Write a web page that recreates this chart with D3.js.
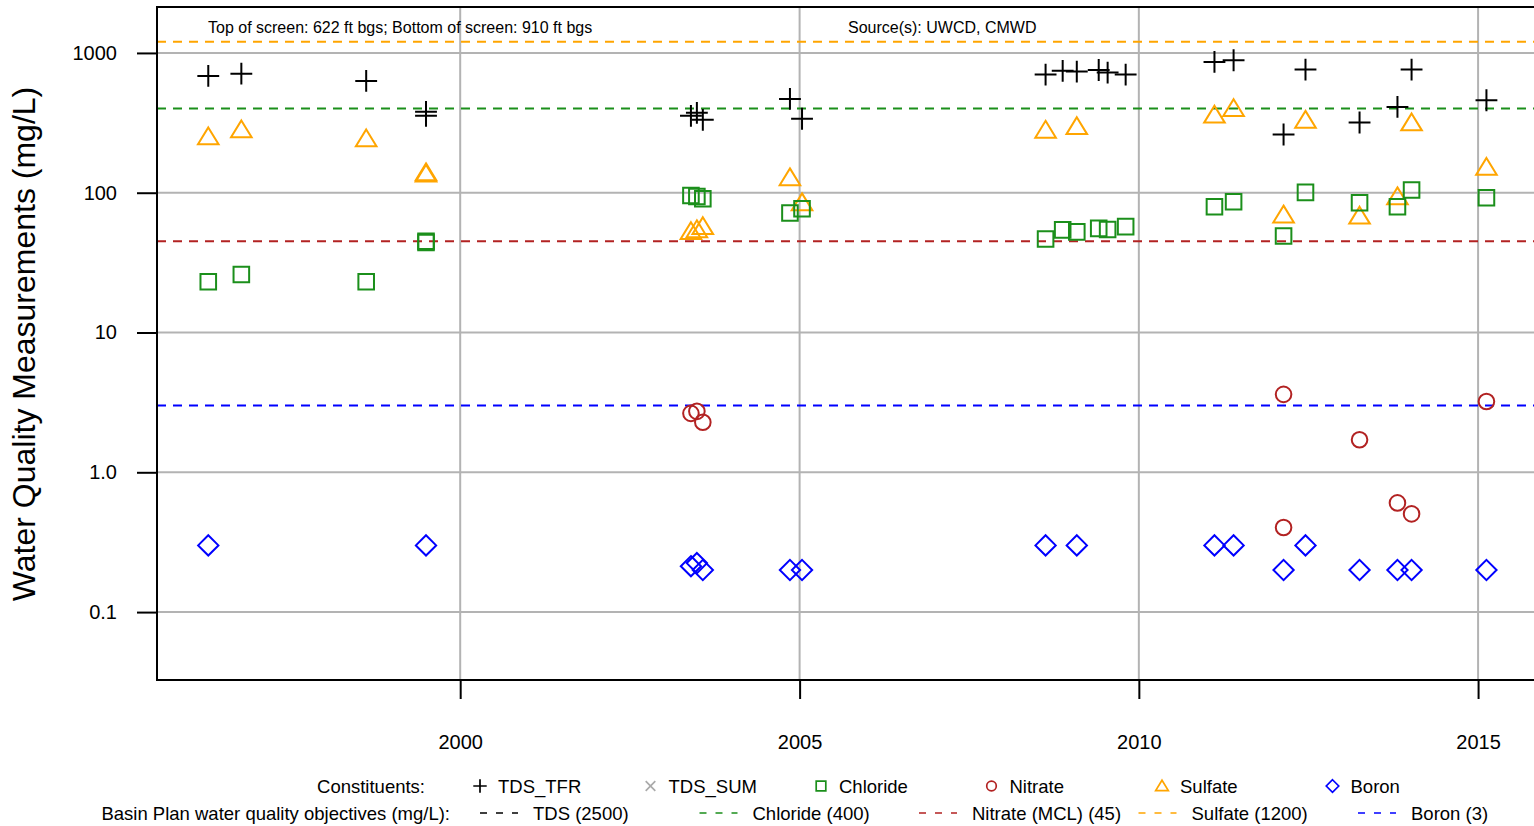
<!DOCTYPE html>
<html>
<head>
<meta charset="utf-8">
<script src="https://cdn.jsdelivr.net/npm/d3@7"></script>
<style>
  body { margin: 0; background: #fff; }
  text { font-family: "Liberation Sans", Arial, sans-serif; fill: #000; }
</style>
</head>
<body>
<div id="chart"></div>
<script>
(function() {
  // sample data (mg/L)
  const tdsDates = ["1996-04-15", "1996-10-10", "1998-08-13", "1999-07-01", "1999-07-01",
    "2003-05-27", "2003-06-28", "2003-07-30", "2004-11-10", "2005-01-14",
    "2008-08-17", "2008-11-17", "2009-02-01", "2009-05-30", "2009-07-17", "2009-10-22",
    "2011-02-12", "2011-05-26", "2012-02-19", "2012-06-16", "2013-04-03", "2013-10-24",
    "2014-01-08", "2015-02-15"];
  const tdsValues = [685, 711, 631, 379, 355, 355, 373, 332, 469, 338,
    700, 745, 735, 755, 723, 700, 863, 887, 261, 760, 318, 411, 760, 459];

  const chlorideDates = tdsDates;
  const chlorideValues = [23.1, 26, 23.1, 45, 44, 95.5, 94, 90.6, 71.6, 76.8,
    46.7, 54.2, 52.5, 55.6, 54.6, 57.2, 79.4, 86.2, 49, 100.5, 84.8, 79.4, 104.6, 92.1];

  const sulfateDates = ["1996-04-15", "1996-10-10", "1998-08-13", "1999-07-01", "1999-07-01",
    "2003-05-27", "2003-06-28", "2003-07-30", "2004-11-10", "2005-01-14",
    "2008-08-17", "2009-02-01", "2011-02-12", "2011-05-26", "2012-02-19", "2012-06-16",
    "2013-04-03", "2013-10-24", "2014-01-08", "2015-02-15"];
  const sulfateValues = [251, 282, 243, 139, 136, 52.7, 54.4, 57.2, 128, 84.8,
    280, 297, 359, 400, 69.3, 330, 68, 93.6, 316, 152];

  const nitrateDates = ["2003-05-27", "2003-06-28", "2003-07-30", "2012-02-19", "2012-02-19",
    "2013-04-03", "2013-10-24", "2014-01-08", "2015-02-15"];
  const nitrateValues = [2.64, 2.73, 2.28, 3.61, 0.403, 1.71, 0.604, 0.504, 3.21];

  const boronDates = ["1996-04-15", "1999-07-01", "2003-05-27", "2003-06-28", "2003-07-30",
    "2004-11-10", "2005-01-14", "2008-08-17", "2009-02-01", "2011-02-12", "2011-05-26",
    "2012-02-19", "2012-06-16", "2013-04-03", "2013-10-24", "2014-01-08", "2015-02-15"];
  const boronValues = [0.3, 0.3, 0.213, 0.224, 0.2, 0.2, 0.2, 0.3, 0.3, 0.3, 0.3,
    0.2, 0.3, 0.2, 0.2, 0.2, 0.2];

  const constituentNames = ["TDS_TFR", "TDS_SUM", "Chloride", "Nitrate", "Sulfate", "Boron"];
  const objectiveNames = ["TDS (2500)", "Chloride (400)", "Nitrate (MCL) (45)", "Sulfate (1200)", "Boron (3)"];
  const objectiveValues = [2500, 400, 45, 1200, 3];

  const yTicks = [0.1, 1, 10, 100, 1000];
  const yTickLabels = ["0.1", "1.0", "10", "100", "1000"];
  const xTickYears = [2000, 2005, 2010, 2015];

  const colors = {
    TDS_TFR: "#000000", TDS_SUM: "#aaaaaa", Chloride: "#1b8f1b",
    Nitrate: "#b22222", Sulfate: "#ffa500", Boron: "#0000ff"
  };
  const objectiveColors = ["#000000", "#1b8f1b", "#b22222", "#ffa500", "#0000ff"];

  const width = 1534, height = 826;
  const plot = { left: 157, top: 7, bottom: 680, right: 1545 };
  const parse = d3.timeParse("%Y-%m-%d");

  const x = d3.scaleTime()
    .domain([parse("1995-07-14"), parse("2015-10-29")])
    .range([plot.left, 1534]);
  const y = d3.scaleLog()
    .domain([0.03267, 2131])
    .range([plot.bottom, plot.top]);

  const svg = d3.select("#chart").append("svg")
    .attr("width", width)
    .attr("height", height);

  svg.append("defs").append("clipPath").attr("id", "clip")
    .append("rect")
    .attr("x", plot.left).attr("y", plot.top)
    .attr("width", plot.right - plot.left).attr("height", plot.bottom - plot.top);

  // grid
  const grid = svg.append("g").attr("clip-path", "url(#clip)");
  grid.selectAll(".hgrid").data(yTicks).enter().append("line")
    .attr("x1", plot.left).attr("x2", plot.right)
    .attr("y1", d => y(d)).attr("y2", d => y(d))
    .attr("stroke", "#b3b3b3").attr("stroke-width", 2);
  grid.selectAll(".vgrid").data(xTickYears).enter().append("line")
    .attr("x1", d => x(new Date(d, 0, 1))).attr("x2", d => x(new Date(d, 0, 1)))
    .attr("y1", plot.top).attr("y2", plot.bottom)
    .attr("stroke", "#b3b3b3").attr("stroke-width", 2);

  // objective lines
  grid.selectAll(".obj").data(objectiveValues).enter().append("line")
    .attr("x1", plot.left).attr("x2", plot.right)
    .attr("y1", d => y(d)).attr("y2", d => y(d))
    .attr("stroke", (d, i) => objectiveColors[i])
    .attr("stroke-width", 2)
    .attr("stroke-dasharray", "9,7");

  // marker shapes
  function plusPath(s) { return "M" + (-s) + ",0H" + s + "M0," + (-s) + "V" + s; }
  function xPath(s) { return "M" + (-s) + "," + (-s) + "L" + s + "," + s + "M" + (-s) + "," + s + "L" + s + "," + (-s); }
  function squarePath(s) { return "M" + (-s) + "," + (-s) + "H" + s + "V" + s + "H" + (-s) + "Z"; }
  function trianglePath(s) { return "M0," + (-s) + "L" + (s * 1.1) + "," + (s * 0.8) + "H" + (-s * 1.1) + "Z"; }
  function diamondPath(s) { return "M0," + (-s) + "L" + s + ",0L0," + s + "L" + (-s) + ",0Z"; }
  function circlePath(s) { return "M" + (-s) + ",0A" + s + "," + s + " 0 1,0 " + s + ",0A" + s + "," + s + " 0 1,0 " + (-s) + ",0Z"; }

  const shapes = {
    TDS_TFR: s => plusPath(s * 1.4),
    TDS_SUM: s => xPath(s),
    Chloride: s => squarePath(s),
    Nitrate: s => circlePath(s),
    Sulfate: s => trianglePath(s * 1.2),
    Boron: s => diamondPath(s * 1.3)
  };

  const series = [
    { name: "Sulfate", dates: sulfateDates, values: sulfateValues },
    { name: "Chloride", dates: chlorideDates, values: chlorideValues },
    { name: "TDS_TFR", dates: tdsDates, values: tdsValues },
    { name: "Nitrate", dates: nitrateDates, values: nitrateValues },
    { name: "Boron", dates: boronDates, values: boronValues }
  ];

  const points = svg.append("g").attr("clip-path", "url(#clip)");
  series.forEach(function(s) {
    const pts = s.dates.map((d, i) => ({ date: parse(d), value: s.values[i] }));
    points.selectAll(".pt-" + s.name).data(pts).enter().append("path")
      .attr("transform", d => "translate(" + x(d.date) + "," + y(d.value) + ")")
      .attr("d", shapes[s.name](7.8))
      .attr("fill", "none")
      .attr("stroke", colors[s.name])
      .attr("stroke-width", 2);
  });

  // frame
  svg.append("path")
    .attr("d", "M" + plot.right + "," + plot.top + "H" + plot.left + "V" + plot.bottom + "H" + plot.right)
    .attr("fill", "none").attr("stroke", "#000").attr("stroke-width", 2);

  // axes
  const yAxis = d3.axisLeft(y)
    .tickValues(yTicks)
    .tickFormat((d, i) => yTickLabels[i])
    .tickSize(20).tickPadding(20);
  const yg = svg.append("g").attr("transform", "translate(" + plot.left + ",0)").call(yAxis);
  yg.select(".domain").remove();
  yg.selectAll("line").attr("stroke-width", 2);
  yg.selectAll("text").style("font-size", "20px").style("font-family", "Liberation Sans, Arial, sans-serif");

  const xAxis = d3.axisBottom(x)
    .tickValues(xTickYears.map(d => new Date(d, 0, 1)))
    .tickFormat(d3.timeFormat("%Y"))
    .tickSize(19).tickPadding(36);
  const xg = svg.append("g").attr("transform", "translate(0," + plot.bottom + ")").call(xAxis);
  xg.select(".domain").remove();
  xg.selectAll("line").attr("stroke-width", 2);
  xg.selectAll("text").style("font-size", "20px").style("font-family", "Liberation Sans, Arial, sans-serif");

  // y title
  svg.append("text")
    .attr("transform", "translate(35," + 344 + ") rotate(-90)")
    .attr("text-anchor", "middle")
    .style("font-size", "32px")
    .text("Water Quality Measurements (mg/L)");

  // annotations
  svg.append("text").attr("x", 208).attr("y", 33)
    .style("font-size", "16px")
    .text("Top of screen: 622 ft bgs; Bottom of screen: 910 ft bgs");
  svg.append("text").attr("x", 848).attr("y", 33)
    .style("font-size", "16px")
    .text("Source(s): UWCD, CMWD");

  // legend row 1
  svg.append("text").attr("x", 425).attr("y", 793)
    .attr("text-anchor", "end").style("font-size", "18.5px")
    .text("Constituents:");
  const leg1 = svg.selectAll(".leg1").data(constituentNames).enter().append("g")
    .attr("transform", (d, i) => "translate(" + (480 + i * 170.5) + ",786)");
  leg1.append("path")
    .attr("d", d => shapes[d](4.8))
    .attr("fill", "none")
    .attr("stroke", d => colors[d])
    .attr("stroke-width", 1.7);
  leg1.append("text").attr("x", 18).attr("y", 7)
    .style("font-size", "18.5px")
    .text(d => d);

  // legend row 2
  svg.append("text").attr("x", 450).attr("y", 820)
    .attr("text-anchor", "end").style("font-size", "18.5px")
    .text("Basin Plan water quality objectives (mg/L):");
  const leg2 = svg.selectAll(".leg2").data(objectiveNames).enter().append("g")
    .attr("transform", (d, i) => "translate(" + (480 + i * 219.5) + ",813)");
  leg2.append("line")
    .attr("x1", 0).attr("x2", 38).attr("y1", 0).attr("y2", 0)
    .attr("stroke", (d, i) => objectiveColors[i])
    .attr("stroke-width", 1.7)
    .attr("stroke-dasharray", "7,9");
  leg2.append("text").attr("x", 53).attr("y", 7)
    .style("font-size", "18.5px")
    .text(d => d);
})();
</script>
</body>
</html>
